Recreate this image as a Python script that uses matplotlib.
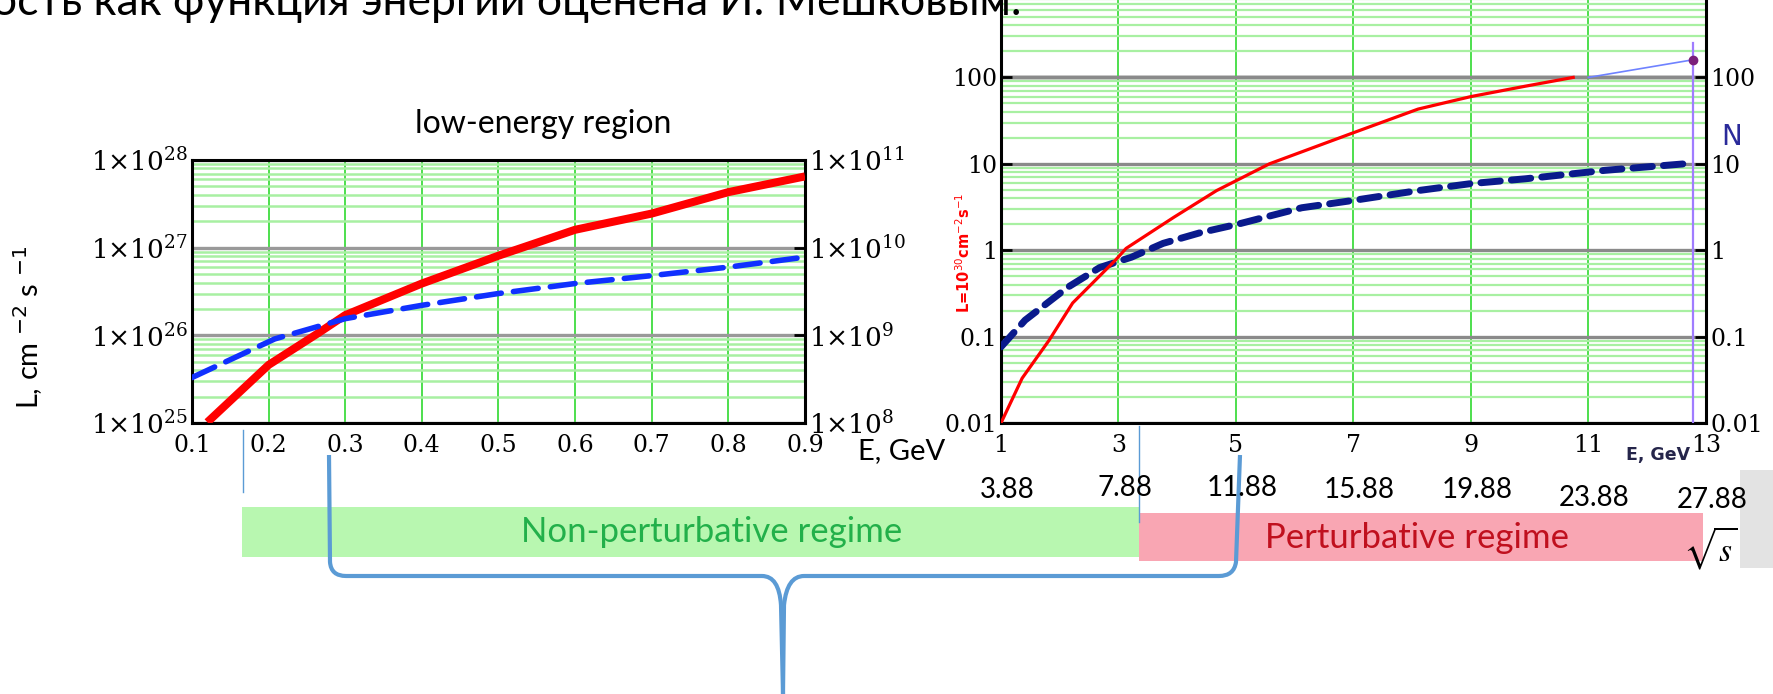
import numpy as np
import matplotlib
matplotlib.use('Agg')
import matplotlib.pyplot as plt
import matplotlib.transforms as mtransforms
from matplotlib.path import Path
from matplotlib.patches import PathPatch, Rectangle
from matplotlib.ticker import LogLocator, NullFormatter

plt.rcParams['font.family'] = ['Lato', 'DejaVu Sans']
plt.rcParams['mathtext.fontset'] = 'dejavuserif'

# --- low-energy region (left panel) ---
e_low_red = [0.12, 0.2, 0.264, 0.3, 0.4, 0.5, 0.6, 0.7, 0.8, 0.9]
L_low = [1.02e25, 4.6e25, 1.05e26, 1.7e26, 3.9e26, 8.1e26, 1.6e27, 2.45e27, 4.3e27, 6.5e27]
e_low_blue = [0.1, 0.208, 0.3, 0.4, 0.5, 0.6, 0.7, 0.8, 0.9]
N_low = [3.3e8, 9.1e8, 1.55e9, 2.2e9, 3.0e9, 3.9e9, 4.8e9, 6.0e9, 7.8e9]
e_low_ticks = [0.1, 0.2, 0.3, 0.4, 0.5, 0.6, 0.7, 0.8, 0.9]
L_low_ticks = [1e25, 1e26, 1e27, 1e28]
L_low_labels = [r'$1{\times}10^{25}$', r'$1{\times}10^{26}$', r'$1{\times}10^{27}$', r'$1{\times}10^{28}$']
N_low_ticks = [1e8, 1e9, 1e10, 1e11]
N_low_labels = [r'$1{\times}10^{8}$', r'$1{\times}10^{9}$', r'$1{\times}10^{10}$', r'$1{\times}10^{11}$']

# --- high-energy panel (right) ---
e_hi_red = [1.0, 1.36, 1.82, 2.22, 2.95, 3.13, 3.94, 4.67, 5.57, 6.93, 8.1, 9.0, 9.92, 10.74]
L_hi = [0.01, 0.033, 0.091, 0.245, 0.77, 1.05, 2.4, 4.9, 10, 22, 43, 60, 79, 100]
e_hi_blue = [1.0, 1.41, 2.13, 2.68, 3.22, 3.76, 4.4, 5.03, 6.12, 7.03, 8.1, 9.0, 9.92, 11.28, 12.64]
N_hi = [0.076, 0.155, 0.37, 0.63, 0.83, 1.2, 1.6, 2.0, 3.1, 3.8, 4.9, 5.9, 6.7, 8.4, 10]
e_hi_ticks = [1, 3, 5, 7, 9, 11, 13]
hi_yticks = [0.01, 0.1, 1, 10, 100]
hi_ylabels = ['0.01', '0.1', '1', '10', '100']
e_link = [11.0, 12.78]
L_link = [100, 160]
e_mark = 12.78
L_mark = 160
L_mark_top = 250

# sqrt(s) under the E ticks
sqrt_s = ['3.88', '7.88', '11.88', '15.88', '19.88', '23.88', '27.88']
sqrt_s_y = [490, 488, 488, 490, 490, 498, 500]

W, H = 1774, 694
fig = plt.figure(figsize=(W / 100, H / 100), dpi=100)

vgreen = '#3fdc3f'
hgreen = '#a8f0a2'
serif = 'DejaVu Serif'

# left panel
ax1 = fig.add_axes([192 / W, 1 - 423 / H, 613 / W, 263 / H])
ax1.set_yscale('log')
ax1.set_xlim(0.1, 0.9)
ax1.set_ylim(1e25, 1e28)
ax1.set_xticks(e_low_ticks, [str(v) for v in e_low_ticks], fontfamily=serif, fontsize=17)
ax1.set_yticks(L_low_ticks, L_low_labels, fontsize=19)
ax1.yaxis.set_minor_locator(LogLocator(base=10, subs=np.arange(2, 10), numticks=20))
ax1.yaxis.set_minor_formatter(NullFormatter())
ax1.grid(which='minor', axis='y', color=hgreen, lw=1.8)
ax1.grid(which='major', axis='y', color='#999999', lw=2.4)
ax1.grid(which='major', axis='x', color=vgreen, lw=1.3)
ax1.tick_params(axis='x', length=0, pad=8)
ax1.tick_params(axis='y', which='both', length=0, pad=3)
ax1.plot(e_low_red, L_low, color='red', lw=5.8, solid_capstyle='butt', zorder=4)
for s in ax1.spines.values():
    s.set_linewidth(2.2)

ax1r = ax1.twinx()
ax1r.set_yscale('log')
ax1r.set_ylim(1e8, 1e11)
ax1r.set_yticks(N_low_ticks, N_low_labels, fontsize=19)
ax1r.yaxis.set_minor_locator(LogLocator(base=10, subs=np.arange(2, 10), numticks=20))
ax1r.yaxis.set_minor_formatter(NullFormatter())
ax1r.tick_params(axis='y', which='minor', length=0)
ax1r.tick_params(axis='y', which='major', length=8, width=2, direction='in', pad=3)
ax1r.plot(e_low_blue, N_low, color='#1030ff', lw=4, ls=(0, (4.5, 2.2)),
          dash_capstyle='round', zorder=3)

# right panel
ax2 = fig.add_axes([1001 / W, 1 - 423 / H, 705 / W, 432 / H])
ax2.set_yscale('log')
ax2.set_xlim(1, 13)
ax2.set_ylim(0.01, 1000)
ax2.set_xticks(e_hi_ticks, [str(v) for v in e_hi_ticks], fontfamily=serif, fontsize=17)
ax2.set_yticks(hi_yticks, hi_ylabels, fontfamily=serif, fontsize=17)
ax2.yaxis.set_minor_locator(LogLocator(base=10, subs=np.arange(2, 10), numticks=20))
ax2.yaxis.set_minor_formatter(NullFormatter())
ax2.grid(which='minor', axis='y', color=hgreen, lw=1.6)
ax2.grid(which='major', axis='y', color='#8a8a8a', lw=2.4)
ax2.grid(which='major', axis='x', color=vgreen, lw=1.3)
ax2.axhline(100, color='black', lw=2.4, zorder=1.5)
ax2.tick_params(axis='x', length=0, pad=8)
ax2.tick_params(axis='y', which='minor', length=0)
ax2.tick_params(axis='y', which='major', length=8, width=2, direction='in',
                left=True, right=True, labelleft=True, labelright=True, pad=3)
for s in ax2.spines.values():
    s.set_linewidth(2.2)
ax2.plot(e_hi_red, L_hi, color='red', lw=2.3, zorder=4)
ax2.plot(e_hi_blue, N_hi, color='#0a1a8c', lw=5, ls=(0, (2.8, 1.6)),
         dash_capstyle='round', zorder=3)
ax2.plot(e_link, L_link, color='#6f82ff', lw=1.2, zorder=4)
ax2.plot([e_mark, e_mark], [0.01, L_mark_top], color='#a07cff', lw=1.6, zorder=4)
ax2.plot([e_mark], [L_mark], 'o', color='#7a1e7a', ms=6, zorder=5)

# overlay for slide annotations (pixel coordinates)
ov = fig.add_axes([0, 0, 1, 1])
ov.set_xlim(0, W)
ov.set_ylim(H, 0)
ov.axis('off')
ov.patch.set_alpha(0)

ov.text(1022, 15, 'Светимость как функция энергии оценена И. Мешковым.',
        ha='right', va='baseline', fontsize=32)
ov.text(543, 124, 'low-energy region', ha='center', va='center', fontsize=23)
ov.text(28, 327, r'L, cm $^{-2}$ s $^{-1}$', rotation=90, ha='center', va='center',
        fontsize=21, math_fontfamily='dejavusans')
ov.text(902, 451, 'E, GeV', ha='center', va='center', fontsize=21)
ov.text(1658, 455, 'E, GeV', ha='center', va='center', fontsize=12.5, fontweight='bold',
        color='#25254a', family=['DejaVu Sans'])
ov.text(1732, 137, 'N', ha='center', va='center', fontsize=20, color='#2a2a9a',
        family=['DejaVu Sans'])
ov.text(964, 253, r'L=10$^{30}$cm$^{-2}$s$^{-1}$', rotation=90, ha='center', va='center',
        fontsize=10.5, color='red', fontweight='bold', family=['DejaVu Sans'],
        math_fontfamily='dejavusans')

# sqrt(s) labels aligned on the E ticks of the right panel
tr = mtransforms.blended_transform_factory(ax2.transData, ov.transData)
tr = mtransforms.offset_copy(tr, fig=fig, x=6, y=0, units='dots')
for e, lab, y in zip(e_hi_ticks, sqrt_s, sqrt_s_y):
    ov.text(e, y, lab, transform=tr, ha='center', va='center', fontsize=20)

# regime bands
ov.add_patch(Rectangle((242, 507), 897, 50, color='#b8f7b0', lw=0))
ov.add_patch(Rectangle((1139, 513), 564, 48, color='#f9a6b3', lw=0))
ov.add_patch(Rectangle((1740, 470), 34, 98, color='#e3e3e3', lw=0))
ov.text(712, 532, 'Non-perturbative regime', ha='center', va='center', fontsize=25,
        color='#22b04a')
ov.text(1417, 538, 'Perturbative regime', ha='center', va='center', fontsize=25,
        color='#c0101e')
ov.text(1710, 548, r'$\sqrt{s}$', ha='center', va='center', fontsize=24,
        math_fontfamily='stix')

# thin marker lines
ov.plot([243, 243], [430, 492], color='#5b9bd5', lw=1)
ov.plot([1139, 1139], [426, 522], color='#5b9bd5', lw=1)

# brace
brace_left = Path([(329, 455), (330, 562), (331, 576), (346, 576), (762, 576),
                   (779, 576), (781, 605), (783, 694)],
                  [Path.MOVETO, Path.LINETO, Path.CURVE3, Path.CURVE3, Path.LINETO,
                   Path.CURVE3, Path.CURVE3, Path.LINETO])
brace_right = Path([(1240, 455), (1236, 562), (1234, 576), (1219, 576), (804, 576),
                    (787, 576), (784, 605), (783, 694)],
                   [Path.MOVETO, Path.LINETO, Path.CURVE3, Path.CURVE3, Path.LINETO,
                    Path.CURVE3, Path.CURVE3, Path.LINETO])
for p in (brace_left, brace_right):
    ov.add_patch(PathPatch(p, fill=False, edgecolor='#5b9bd5', lw=3))

fig.savefig('out.png', dpi=100)
